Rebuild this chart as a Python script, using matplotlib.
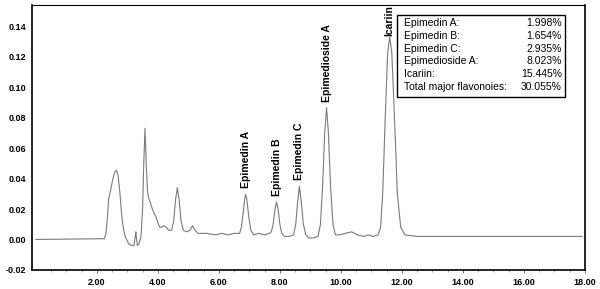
import matplotlib
matplotlib.use("Agg")
import matplotlib.pyplot as plt
from matplotlib.patches import Rectangle

# Chromatogram trace (time in min, absorbance)
time = [0.0, 2.25, 2.30, 2.35, 2.39, 2.45, 2.52, 2.58, 2.64, 2.70, 2.76, 2.82, 2.88, 2.95,
        3.05, 3.15, 3.22, 3.26, 3.28, 3.30, 3.33, 3.38, 3.45, 3.50, 3.54, 3.58, 3.62, 3.66,
        3.70, 3.76, 3.82, 3.88, 3.94, 4.00, 4.06, 4.12, 4.20, 4.28, 4.36, 4.45, 4.52, 4.58,
        4.64, 4.70, 4.76, 4.84, 4.95, 5.05, 5.14, 5.22, 5.32, 5.6, 5.9, 6.1, 6.3, 6.5, 6.68,
        6.74, 6.80, 6.85, 6.88, 6.92, 6.98, 7.05, 7.14, 7.3, 7.5, 7.65, 7.72,
        7.78, 7.84, 7.89, 7.94, 8.00, 8.06, 8.15, 8.30, 8.45,
        8.52, 8.58, 8.64, 8.70, 8.77, 8.85, 8.95, 9.10, 9.25,
        9.33, 9.40, 9.47, 9.53, 9.59, 9.66, 9.74, 9.82, 9.95, 10.15, 10.35, 10.55, 10.75,
        10.90, 11.05, 11.22,
        11.30, 11.37, 11.45, 11.53, 11.60, 11.67, 11.76, 11.85, 11.96, 12.10,
        12.5, 13.5, 15.0, 16.5, 17.9]
absorb = [0.0, 0.0005, 0.004, 0.015, 0.027, 0.032, 0.039, 0.044, 0.0455, 0.042, 0.030, 0.015, 0.006, 0.001,
          -0.003, -0.004, -0.004, 0.002, 0.005, 0.001, -0.004, -0.003, 0.002, 0.020, 0.050, 0.073, 0.050, 0.032,
          0.027, 0.024, 0.020, 0.017, 0.015, 0.011, 0.008, 0.008, 0.009, 0.008, 0.006, 0.006, 0.012, 0.026,
          0.034, 0.026, 0.012, 0.006, 0.005, 0.006, 0.009, 0.006, 0.004, 0.004, 0.003, 0.004, 0.003, 0.004, 0.004,
          0.008, 0.018, 0.027, 0.0295, 0.026, 0.015, 0.006, 0.003, 0.004, 0.003, 0.004, 0.005,
          0.010, 0.020, 0.0246, 0.020, 0.010, 0.004, 0.002, 0.002, 0.003,
          0.010, 0.024, 0.035, 0.025, 0.010, 0.003, 0.001, 0.001, 0.002,
          0.010, 0.035, 0.070, 0.0865, 0.070, 0.035, 0.010, 0.003, 0.003, 0.004, 0.005, 0.003, 0.002,
          0.003, 0.002, 0.003,
          0.008, 0.030, 0.078, 0.122, 0.133, 0.122, 0.078, 0.030, 0.008, 0.003,
          0.002, 0.002, 0.002, 0.002, 0.002]

# Peak labels
peak_names = ["Epimedin A", "Epimedin B", "Epimedin C", "Epimedioside A", "Icariin"]
peak_times = [6.88, 7.89, 8.64, 9.53, 11.58]
peak_heights = [0.0295, 0.0246, 0.035, 0.0865, 0.133]
label_gaps = [0.004, 0.004, 0.004, 0.004, 0.0005]

# Content table
table_names = ["Epimedin A:", "Epimedin B:", "Epimedin C:", "Epimedioside A:", "Icariin:",
               "Total major flavonoies:"]
table_values = ["1.998%", "1.654%", "2.935%", "8.023%", "15.445%", "30.055%"]

xticks = [2, 4, 6, 8, 10, 12, 14, 16, 18]
yticks = [-0.02, 0.00, 0.02, 0.04, 0.06, 0.08, 0.10, 0.12, 0.14]

plt.rcParams['font.family'] = ['Liberation Sans', 'DejaVu Sans']

fig = plt.figure(figsize=(6.0, 2.89), dpi=100)
ax = fig.add_axes([0.053, 0.066, 0.922, 0.917])

ax.plot(time, absorb, color='#7a7a7a', lw=0.8)

ax.set_xlim(-0.13, 18.0)
ax.set_ylim(-0.02, 0.154)

ax.set_xticks(xticks)
ax.set_xticklabels([f"{v:.2f}" for v in xticks], fontsize=6.5, fontweight='bold')
ax.set_xticks([v / 2 for v in range(1, 36)], minor=True)
ax.set_yticks(yticks)
ax.set_yticklabels([f"{v:.2f}" for v in yticks], fontsize=6.5, fontweight='bold')
ax.tick_params(axis='x', which='major', length=2, width=0.6, pad=4, color='#555555')
ax.tick_params(axis='x', which='minor', length=1.5, width=0.5, color='#777777')
ax.tick_params(axis='y', length=0, pad=4)

for s in ['left', 'bottom', 'right']:
    ax.spines[s].set_linewidth(1.2)
ax.spines['top'].set_linewidth(0.8)

for name, t, h, g in zip(peak_names, peak_times, peak_heights, label_gaps):
    ax.text(t, h + g, name, rotation=90, ha='center', va='bottom',
            fontsize=7.5, fontweight='bold', clip_on=False)

# Table box
box = Rectangle((0.660, 0.653), 0.304, 0.309, transform=ax.transAxes,
                fill=False, edgecolor='black', lw=1.0)
ax.add_patch(box)
line_px = [23, 35.8, 48.6, 61.4, 74.2, 87]
for name, val, yp in zip(table_names, table_values, line_px):
    y = 1 - (yp - 5) / 265
    ax.text(0.673, y, name, transform=ax.transAxes, ha='left', va='center', fontsize=7.5)
    ax.text(0.958, y, val, transform=ax.transAxes, ha='right', va='center', fontsize=7.5)

fig.savefig("out.png", dpi=100)
